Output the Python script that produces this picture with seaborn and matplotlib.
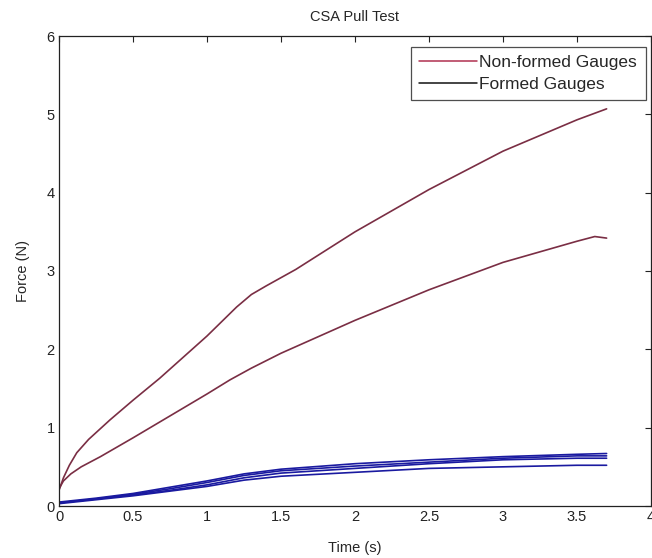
import numpy as np
import pandas as pd
import matplotlib
matplotlib.use("Agg")
import matplotlib.pyplot as plt
import seaborn as sns
from matplotlib.lines import Line2D

# Non-formed gauges (force in N vs time in s)
t_nf1 = [0.0, 0.03, 0.07, 0.12, 0.2, 0.345, 0.5, 0.68, 1.0, 1.2, 1.3, 1.4, 1.6, 2.0, 2.5, 3.0, 3.5, 3.7]
f_nf1 = [0.20, 0.36, 0.52, 0.68, 0.85, 1.10, 1.35, 1.63, 2.17, 2.54, 2.70, 2.81, 3.02, 3.50, 4.04, 4.53, 4.93, 5.07]
t_nf2 = [0.0, 0.03, 0.08, 0.15, 0.28, 0.5, 0.75, 1.0, 1.155, 1.3, 1.5, 2.0, 2.5, 3.0, 3.5, 3.62, 3.7]
f_nf2 = [0.22, 0.32, 0.41, 0.50, 0.63, 0.87, 1.15, 1.43, 1.61, 1.76, 1.95, 2.37, 2.76, 3.11, 3.38, 3.44, 3.42]

# Formed gauges
t_f = [0.0, 0.25, 0.5, 0.75, 1.0, 1.25, 1.5, 2.0, 2.5, 3.0, 3.5, 3.7]
f_f1 = [0.05, 0.10, 0.16, 0.24, 0.32, 0.41, 0.47, 0.54, 0.59, 0.63, 0.66, 0.67]
f_f2 = [0.04, 0.09, 0.15, 0.22, 0.30, 0.39, 0.45, 0.51, 0.56, 0.61, 0.64, 0.64]
f_f3 = [0.04, 0.09, 0.14, 0.20, 0.27, 0.36, 0.42, 0.48, 0.54, 0.59, 0.61, 0.61]
f_f4 = [0.03, 0.08, 0.13, 0.19, 0.25, 0.33, 0.38, 0.43, 0.48, 0.50, 0.52, 0.52]

x_ticks = [0, 0.5, 1, 1.5, 2, 2.5, 3, 3.5, 4]
x_tick_labels = ["0", "0.5", "1", "1.5", "2", "2.5", "3", "3.5", "4"]
y_ticks = [0, 1, 2, 3, 4, 5, 6]

frames = []
for name, t, f in [("nf1", t_nf1, f_nf1), ("nf2", t_nf2, f_nf2)]:
    frames.append(pd.DataFrame({"Time": t, "Force": f, "run": name, "group": "Non-formed"}))
for name, f in [("f1", f_f1), ("f2", f_f2), ("f3", f_f3), ("f4", f_f4)]:
    frames.append(pd.DataFrame({"Time": t_f, "Force": f, "run": name, "group": "Formed"}))
df = pd.concat(frames, ignore_index=True)

sns.set_style("white")
plt.rcParams["font.family"] = ["Liberation Sans", "DejaVu Sans"]

fig = plt.figure(figsize=(6.52, 5.58), dpi=100)
ax = fig.add_axes([59 / 652, 52 / 558, 592 / 652, 470 / 558])

red = "#7a2e44"
blue = "#1a1aa0"
palette = {"nf1": red, "nf2": red, "f1": blue, "f2": blue, "f3": blue, "f4": blue}
sns.lineplot(data=df, x="Time", y="Force", hue="run", palette=palette,
             units="run", estimator=None, sort=False, linewidth=1.2,
             legend=False, ax=ax)

ax.set_xlim(0, 4)
ax.set_ylim(0, 6)
ax.set_xticks(x_ticks)
ax.set_xticklabels(x_tick_labels)
ax.set_yticks(y_ticks)
ax.tick_params(direction="in", top=True, right=True, length=4, width=0.8,
               labelsize=10.5, colors="#222222", pad=3)
for s in ax.spines.values():
    s.set_color("#222222")
    s.set_linewidth(0.9)

ax.set_title("CSA Pull Test", fontsize=10.5, pad=11)
ax.set_xlabel("Time (s)", fontsize=10.5, labelpad=12)
ax.set_ylabel("Force (N)", fontsize=10.5, labelpad=12)

handles = [Line2D([], [], color="#b03050", lw=1.1),
           Line2D([], [], color="#111111", lw=1.1)]
leg = ax.legend(handles, ["Non-formed Gauges", "Formed Gauges"],
                loc="upper right", bbox_to_anchor=(0.997, 0.985),
                fontsize=12.5, frameon=True, fancybox=False, handlelength=3.3,
                handletextpad=0.15, borderpad=0.5, labelspacing=0.35,
                borderaxespad=0.2)
leg.get_frame().set_edgecolor("#222222")
leg.get_frame().set_linewidth(0.9)

fig.savefig("out.png", dpi=100)
